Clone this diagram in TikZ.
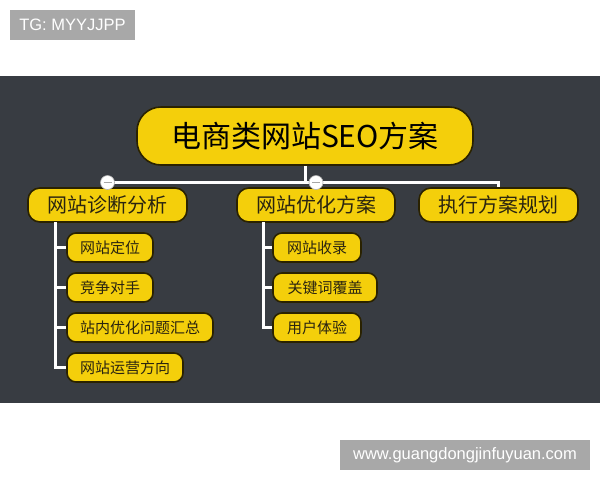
\documentclass[tikz,border=0pt]{standalone}
\usepackage{fontspec}
\setmainfont{Liberation Sans}
\newfontfamily\cjk{Noto Sans CJK SC}
\definecolor{bgdark}{HTML}{383C42}
\definecolor{boxyel}{HTML}{F4CF0B}
\definecolor{boxedge}{HTML}{2A2200}
\definecolor{txtdark}{HTML}{2A2410}
\definecolor{tagbg}{HTML}{A8A8A8}
\tikzset{
  ybox/.style={fill=boxyel, draw=boxedge, line width=1.6pt, inner sep=0pt, text=txtdark, font=\cjk},
  mainbox/.style={ybox, text=black, minimum height=58, rounded corners=24pt, font=\cjk\fontsize{30}{34}\selectfont},
  lvone/.style={ybox, minimum height=34, rounded corners=12pt, font=\cjk\fontsize{20}{24}\selectfont},
  lvtwo/.style={ybox, minimum height=29, rounded corners=9pt, font=\cjk\fontsize{15}{18}\selectfont},
  conn/.style={draw=white, line width=3pt},
  tag/.style={fill=tagbg, text=white, inner sep=0pt, font=\fontsize{16.5}{19}\selectfont},
  knob/.style={circle, fill=white, draw=gray!60, line width=0.6pt, minimum size=14, inner sep=0pt},
  knobbar/.style={draw=gray!70, line width=1.4pt},
}
\begin{document}
\begin{tikzpicture}[x=1pt,y=-1pt]
\useasboundingbox (0,0) rectangle (600,480);
\fill[white] (0,0) rectangle (600,480);
\fill[bgdark] (0,76) rectangle (600,403);
% tags
\node[tag, minimum width=125, minimum height=30] (tagtl) at (72.5,25) {TG: MYYJJPP};
\node[tag, minimum width=250, minimum height=30] (tagbr) at (465,455) {www.guangdongjinfuyuan.com};
% nodes
\node[mainbox, minimum width=336] (main) at (305,136) {电商类网站SEO方案};
\node[lvone, minimum width=159] (la) at (107.5,205) {网站诊断分析};
\node[lvone, minimum width=158] (lb) at (316,205) {网站优化方案};
\node[lvone, minimum width=159] (lc) at (498.5,205) {执行方案规划};
\node[lvtwo, minimum width=86] (a1) at (110,247.5) {网站定位};
\node[lvtwo, minimum width=86] (a2) at (110,287.5) {竞争对手};
\node[lvtwo, minimum width=146] (a3) at (140,327.5) {站内优化问题汇总};
\node[lvtwo, minimum width=116] (a4) at (125,367.5) {网站运营方向};
\node[lvtwo, minimum width=88] (b1) at (317,247.5) {网站收录};
\node[lvtwo, minimum width=104] (b2) at (325,287.5) {关键词覆盖};
\node[lvtwo, minimum width=88] (b3) at (317,327.5) {用户体验};
% connectors
\coordinate (bus) at (305,182.5);
\coordinate (ta) at (55,222);
\coordinate (tb) at (263,222);
\draw[conn] (main.south) -- (bus);
\draw[conn] (la.north |- bus) -- (lc.north |- bus) -- (lc.north);
\draw[conn] (ta) |- (a4.west);
\draw[conn] (ta |- a1.west) -- (a1.west);
\draw[conn] (ta |- a2.west) -- (a2.west);
\draw[conn] (ta |- a3.west) -- (a3.west);
\draw[conn] (tb) |- (b3.west);
\draw[conn] (tb |- b1.west) -- (b1.west);
\draw[conn] (tb |- b2.west) -- (b2.west);
% collapse knobs
\node[knob] (ka) at (la.north |- bus) {};
\node[knob] (kb) at (lb.north |- bus) {};
\draw[knobbar] ([xshift=-4]ka.center) -- ([xshift=4]ka.center);
\draw[knobbar] ([xshift=-4]kb.center) -- ([xshift=4]kb.center);
\end{tikzpicture}
\end{document}
